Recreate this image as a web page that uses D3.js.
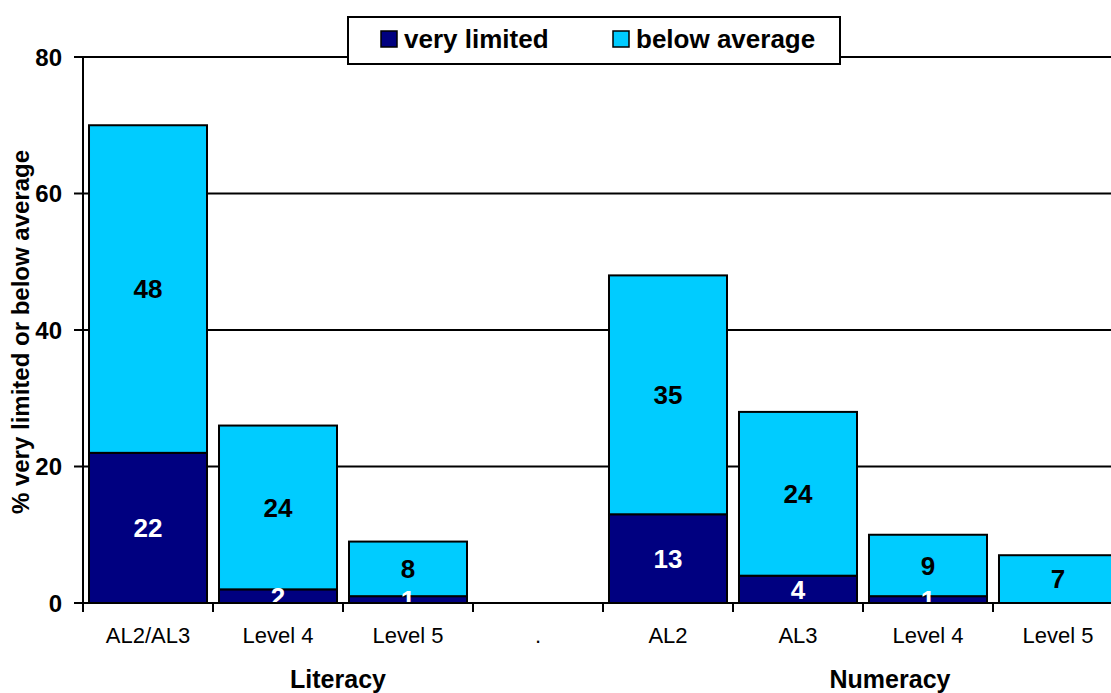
<!DOCTYPE html>
<html>
<head>
<meta charset="utf-8">
<script src="https://cdn.jsdelivr.net/npm/d3@7"></script>
<style>
  html, body { margin: 0; padding: 0; background: #fff; overflow: hidden; }
  text { font-family: Arial, "Liberation Sans", sans-serif; }
</style>
</head>
<body>
<script>
const width = 1111;
const height = 693;

// data
const categories = ["AL2/AL3", "Level 4", "Level 5", ".", "AL2", "AL3", "Level 4 ", "Level 5 "];
const tickLabels = ["AL2/AL3", "Level 4", "Level 5", ".", "AL2", "AL3", "Level 4", "Level 5"];
const veryLimited = [22, 2, 1, null, 13, 4, 1, 0];
const belowAverage = [48, 24, 8, null, 35, 24, 9, 7];
const seriesNames = ["very limited", "below average"];
const groupNames = ["Literacy", "Numeracy"];
const yTicks = [0, 20, 40, 60, 80];

const darkColor = "#000080";
const lightColor = "#00ccff";

const plot = {left: 83, top: 57, right: 1123, bottom: 603};

const x = d3.scaleBand()
    .domain(categories)
    .range([plot.left, plot.right])
    .paddingInner(0.0923)
    .paddingOuter(0.0462);

const y = d3.scaleLinear()
    .domain([0, 80])
    .range([plot.bottom, plot.top]);

const svg = d3.select("body").append("svg")
    .attr("width", width)
    .attr("height", height);

svg.append("defs").append("clipPath")
    .attr("id", "plotclip")
    .append("rect")
    .attr("x", plot.left)
    .attr("y", plot.top - 2)
    .attr("width", plot.right - plot.left)
    .attr("height", plot.bottom - plot.top + 2);

// gridlines
svg.append("g")
    .selectAll("line")
    .data(yTicks.filter(d => d > 0))
    .enter().append("line")
    .attr("x1", plot.left)
    .attr("x2", plot.right)
    .attr("y1", d => y(d))
    .attr("y2", d => y(d))
    .attr("stroke", "#000")
    .attr("stroke-width", 2);

// stacked segments
const rows = categories.map((c, i) => ({cat: c, v: veryLimited[i], b: belowAverage[i]}))
    .filter(d => d.v !== null);

const segs = [];
rows.forEach(d => {
    if (d.v > 0) segs.push({cat: d.cat, y0: 0, y1: d.v, val: d.v, fill: darkColor, tc: "#fff"});
    if (d.b > 0) segs.push({cat: d.cat, y0: d.v, y1: d.v + d.b, val: d.b, fill: lightColor, tc: "#000"});
});

svg.append("g")
    .selectAll("rect")
    .data(segs)
    .enter().append("rect")
    .attr("x", d => x(d.cat))
    .attr("y", d => y(d.y1))
    .attr("width", x.bandwidth())
    .attr("height", d => y(d.y0) - y(d.y1))
    .attr("fill", d => d.fill)
    .attr("stroke", "#000")
    .attr("stroke-width", 2);

// value labels, clipped at the axis like the original
svg.append("g")
    .attr("clip-path", "url(#plotclip)")
    .selectAll("text")
    .data(segs)
    .enter().append("text")
    .attr("x", d => x(d.cat) + x.bandwidth() / 2)
    .attr("y", d => y((d.y0 + d.y1) / 2))
    .attr("dy", "0.36em")
    .attr("text-anchor", "middle")
    .attr("font-size", 26)
    .attr("font-weight", "bold")
    .attr("fill", d => d.tc)
    .text(d => d.val);

// y axis
const yAxis = svg.append("g");
yAxis.append("line")
    .attr("x1", plot.left).attr("x2", plot.left)
    .attr("y1", plot.top).attr("y2", plot.bottom)
    .attr("stroke", "#000").attr("stroke-width", 2);
yAxis.selectAll(".tick")
    .data(yTicks)
    .enter().append("line")
    .attr("x1", plot.left - 9).attr("x2", plot.left)
    .attr("y1", d => y(d)).attr("y2", d => y(d))
    .attr("stroke", "#000").attr("stroke-width", 2);
yAxis.selectAll("text")
    .data(yTicks)
    .enter().append("text")
    .attr("x", plot.left - 21)
    .attr("y", d => y(d))
    .attr("dy", "0.36em")
    .attr("text-anchor", "end")
    .attr("font-size", 24)
    .attr("font-weight", "bold")
    .text(d => d);

// x axis
const xAxis = svg.append("g");
xAxis.append("line")
    .attr("x1", plot.left).attr("x2", plot.right)
    .attr("y1", plot.bottom).attr("y2", plot.bottom)
    .attr("stroke", "#000").attr("stroke-width", 2);
const step = x.step();
xAxis.selectAll(".tick")
    .data(d3.range(categories.length + 1))
    .enter().append("line")
    .attr("x1", i => plot.left + i * step).attr("x2", i => plot.left + i * step)
    .attr("y1", plot.bottom).attr("y2", plot.bottom + 9)
    .attr("stroke", "#000").attr("stroke-width", 2);
xAxis.selectAll("text")
    .data(categories)
    .enter().append("text")
    .attr("x", d => x(d) + x.bandwidth() / 2)
    .attr("y", 643)
    .attr("text-anchor", "middle")
    .attr("font-size", 22)
    .text((d, i) => tickLabels[i]);

// group labels
const groupX = [338, 890];
svg.append("g")
    .selectAll("text")
    .data(groupNames)
    .enter().append("text")
    .attr("x", (d, i) => groupX[i])
    .attr("y", 688)
    .attr("text-anchor", "middle")
    .attr("font-size", 25)
    .attr("font-weight", "bold")
    .text(d => d);

// y axis title
svg.append("text")
    .attr("transform", "translate(29,332) rotate(-90)")
    .attr("text-anchor", "middle")
    .attr("font-size", 24)
    .attr("font-weight", "bold")
    .text("% very limited or below average");

// legend
const legend = svg.append("g");
legend.append("rect")
    .attr("x", 348).attr("y", 17)
    .attr("width", 492).attr("height", 47)
    .attr("fill", "#fff")
    .attr("stroke", "#000").attr("stroke-width", 2);
const legendX = [381, 613];
const legendColors = [darkColor, lightColor];
const items = legend.selectAll(".item")
    .data(seriesNames)
    .enter().append("g")
    .attr("transform", (d, i) => `translate(${legendX[i]},0)`);
items.append("rect")
    .attr("x", 0).attr("y", 31)
    .attr("width", 16).attr("height", 16)
    .attr("fill", (d, i) => legendColors[i])
    .attr("stroke", "#000").attr("stroke-width", 1.5);
items.append("text")
    .attr("x", 23).attr("y", 48)
    .attr("font-size", 26)
    .attr("font-weight", "bold")
    .text(d => d);
</script>
</body>
</html>
